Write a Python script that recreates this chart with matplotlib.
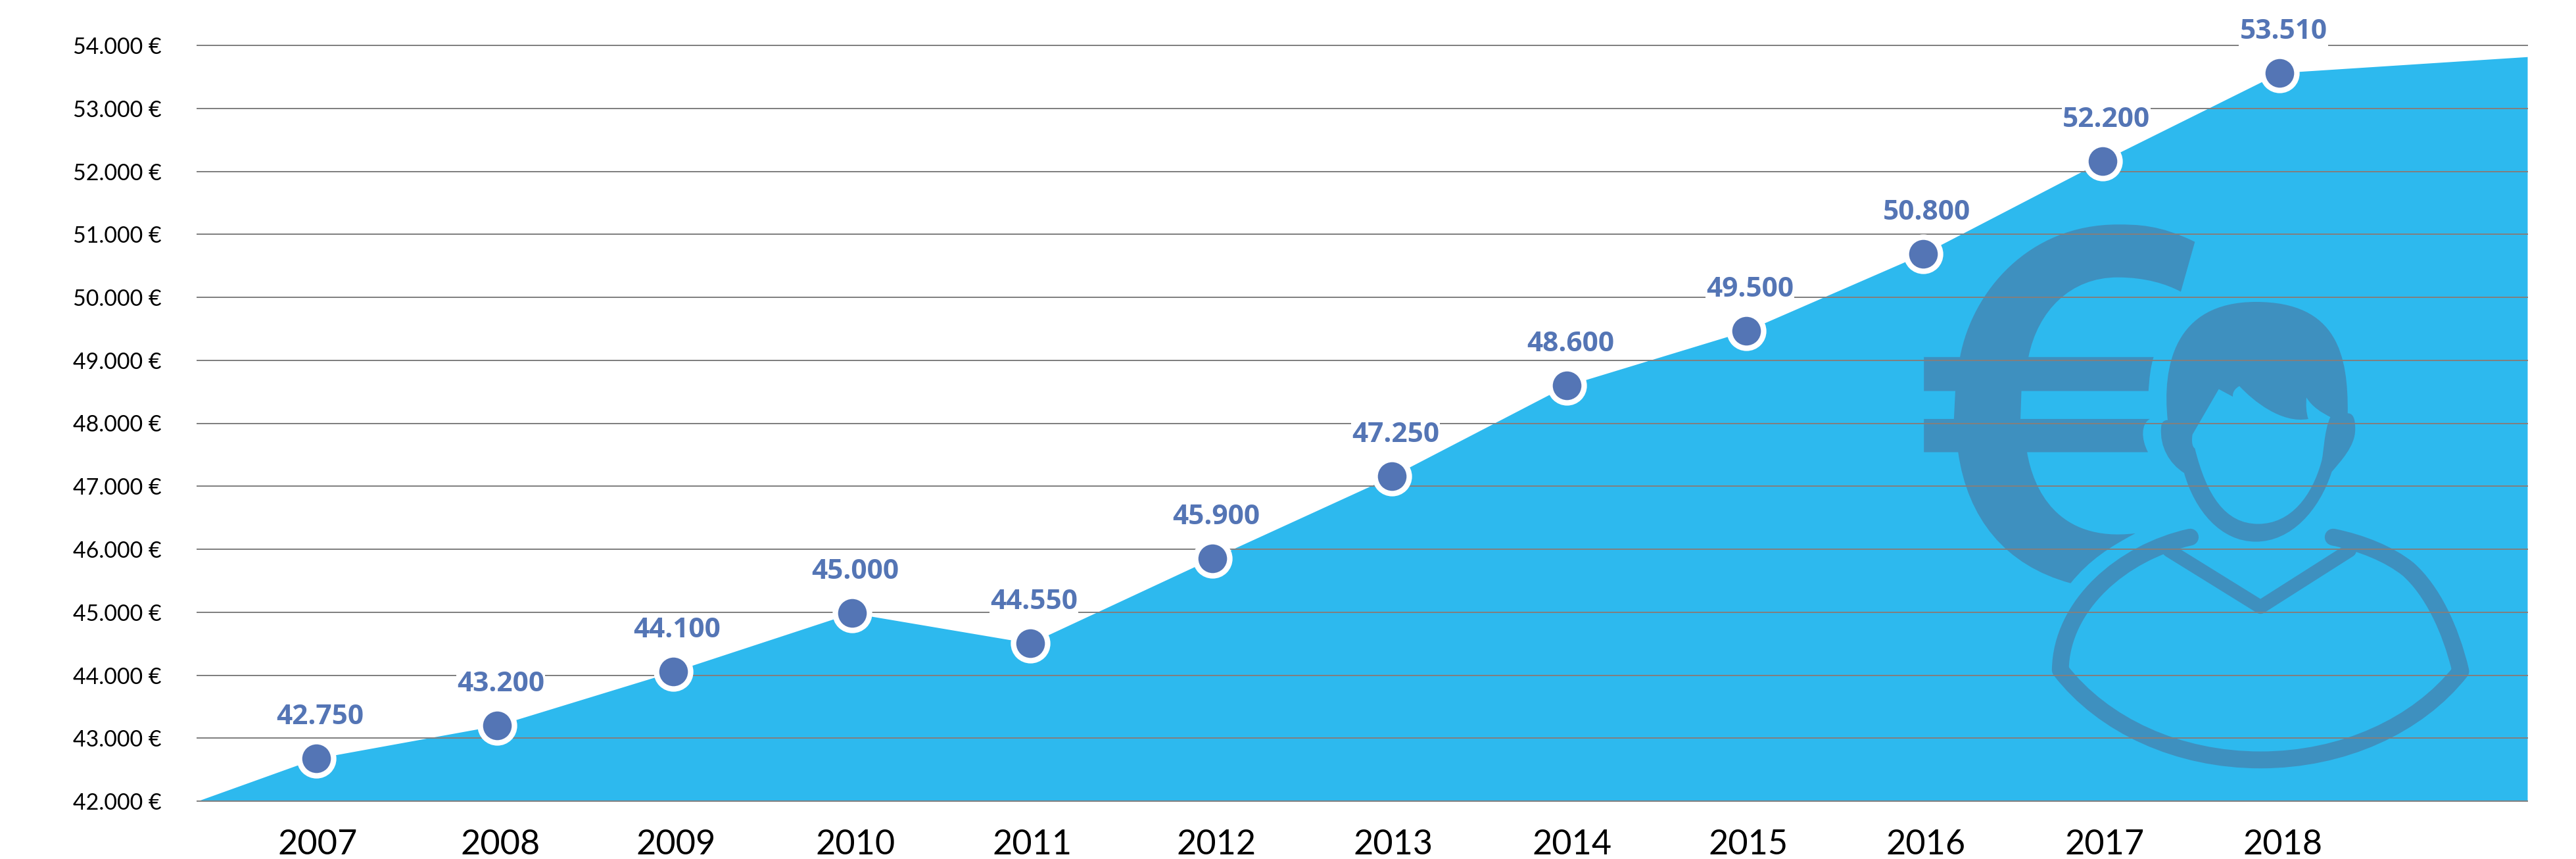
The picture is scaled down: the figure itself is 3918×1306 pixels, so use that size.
"""
Salario medio por ano: area azul com marcadores e icone decorativo
"""

import matplotlib
matplotlib.use('Agg')
import matplotlib.pyplot as plt
from matplotlib.patches import PathPatch
from matplotlib.path import Path
from matplotlib.transforms import Affine2D

plt.rcParams['font.family'] = ['Lato', 'DejaVu Sans']

# Dados
anos = ['2007', '2008', '2009', '2010', '2011', '2012',
        '2013', '2014', '2015', '2016', '2017', '2018']
rotulos = ['42.750', '43.200', '44.100', '45.000', '44.550', '45.900',
           '47.250', '48.600', '49.500', '50.800', '52.200', '53.510']
# os pontos do original nao estao perfeitamente espacados nem batem 100% com os rotulos
pontos_x = [2007.0, 2008.013, 2009.0, 2010.0, 2011.0, 2012.02,
            2013.026, 2014.006, 2015.011, 2016.002, 2017.007, 2018.0]
pontos_y = [42679, 43201, 44057, 44987, 44507, 45854,
            47159, 48600, 49467, 50689, 52167, 53565]
ticks_x = [2007.007, 2008.031, 2009.015, 2010.02, 2011.011, 2012.042,
           2013.033, 2014.035, 2015.022, 2016.017, 2017.018, 2018.017]
area_x = [2006.333, 2019.387]
area_y = [42000, 53820]
ticks_y = [42000, 43000, 44000, 45000, 46000, 47000, 48000,
           49000, 50000, 51000, 52000, 53000, 54000]
rotulos_y = ['42.000 €', '43.000 €', '44.000 €', '45.000 €', '46.000 €', '47.000 €', '48.000 €',
             '49.000 €', '50.000 €', '51.000 €', '52.000 €', '53.000 €', '54.000 €']

COR_AREA = '#2db9ee'
COR_ICONE = '#3e90bf'
COR_PONTO = '#5475b5'
COR_GRADE = '#808080'

W, H = 3918, 1306

fig = plt.figure(figsize=(W / 100, H / 100), dpi=100, facecolor='white')
ax = fig.add_axes([300 / W, 1 - 1218 / H, (3844 - 300) / W, (1218 - 69) / H])
ax.set_xlim(area_x[0], area_x[1])
ax.set_ylim(ticks_y[0], ticks_y[-1])
for lado in ax.spines.values():
    lado.set_visible(False)

# Area
xs = [area_x[0]] + pontos_x + [area_x[1]]
ys = [area_y[0]] + pontos_y + [area_y[1]]
ax.fill_between(xs, ticks_y[0], ys, color=COR_AREA, linewidth=0, zorder=1, clip_on=False)

# Grade e eixos
ax.set_yticks(ticks_y)
ax.set_yticklabels(rotulos_y, fontsize=24.5, color='black')
ax.set_xticks(ticks_x)
ax.set_xticklabels(anos, fontsize=37.5, color='black')
ax.tick_params(axis='both', length=0)
ax.tick_params(axis='y', pad=39)
ax.tick_params(axis='x', pad=31)
for y in ticks_y:
    ax.axhline(y, color=COR_GRADE, linewidth=1.44, zorder=3, clip_on=False)

# Icone (coordenadas do recorte, convertidas para a figura)
icone_tf = (Affine2D().scale(1 / 1.4025, 1 / 1.742).translate(2800, 300)
            .scale(1 / W, -1 / H).translate(0, 1) + fig.transFigure)


def _caminho(inicio, segmentos, fechar=True):
    """Monta um Path a partir de pontos soltos (reta) e trios (curva cubica)"""
    verts = [inicio]
    codes = [Path.MOVETO]
    for seg in segmentos:
        if len(seg) == 3:
            verts.extend(seg)
            codes.extend([Path.CURVE4] * 3)
        else:
            verts.append(seg[0])
            codes.append(Path.LINETO)
    if fechar:
        verts.append(inicio)
        codes.append(Path.CLOSEPOLY)
    return Path(verts, codes)


euro = _caminho((755, 118), [
    ((680, 72), (630, 72), (590, 72)),
    ((400, 72), (280, 250), (254, 423)),
    [(177, 423)], [(177, 513)], [(244, 513)], [(241, 587)], [(177, 587)],
    [(177, 675)], [(250, 675)],
    ((270, 850), (350, 975), (490, 1022)),
    ((530, 960), (575, 925), (628, 890)),
    ((460, 915), (410, 770), (397, 675)),
    [(655, 675)],
    ((640, 640), (640, 600), (659, 587)),
    [(383, 587)], [(385, 513)], [(656, 513)],
    ((658, 480), (660, 450), (667, 423)),
    [(400, 423)],
    ((420, 300), (490, 212), (590, 212)),
    ((650, 212), (695, 230), (725, 250)),
])
cabeca = _caminho((697, 590), [
    ((685, 450), (710, 277), (885, 277)),
    ((1060, 277), (1082, 420), (1081, 572)),
    ((1097, 572), (1097, 600), (1097, 615)),
    ((1097, 660), (1065, 700), (1047, 727)),
    ((1020, 830), (960, 912), (885, 912)),
    ((810, 912), (755, 830), (732, 730)),
    ((700, 705), (680, 660), (683, 610)),
    ((683, 595), (690, 590), (697, 590)),
])
rosto = _caminho((806, 508), [
    [(836, 528)],
    ((835, 515), (842, 505), (850, 500)),
    ((880, 540), (940, 600), (997, 587)),
    ((992, 570), (992, 550), (993, 530)),
    ((1005, 555), (1025, 570), (1044, 582)),
    ((1030, 620), (1030, 680), (1025, 700)),
    ((1005, 790), (960, 865), (890, 865)),
    ((820, 865), (780, 790), (755, 665)),
    ((748, 660), (748, 640), (750, 628)),
])
ombros = _caminho((745, 900), [
    ((600, 940), (470, 1080), (468, 1252)),
    ((560, 1400), (720, 1490), (895, 1490)),
    ((1070, 1490), (1230, 1400), (1322, 1255)),
    ((1300, 1140), (1260, 1040), (1210, 985)),
    ((1170, 945), (1110, 915), (1050, 900)),
], fechar=False)
gola = _caminho((700, 935), [[(895, 1085)], [(1085, 935)]], fechar=False)

for forma, cor in [(euro, COR_ICONE), (cabeca, COR_ICONE), (rosto, COR_AREA)]:
    ax.add_patch(PathPatch(forma, facecolor=cor, edgecolor='none', transform=icone_tf, zorder=2, clip_on=False))
for traco, largura in [(ombros, 18.5), (gola, 15)]:
    ax.add_patch(PathPatch(traco, facecolor='none', edgecolor=COR_ICONE, linewidth=largura,
                           capstyle='round', joinstyle='round', transform=icone_tf, zorder=2, clip_on=False))

# Marcadores e rotulos
ax.plot(pontos_x, pontos_y, linestyle='none', marker='o', markersize=37.4,
        markerfacecolor=COR_PONTO, markeredgecolor='white', markeredgewidth=6, zorder=4, clip_on=False)
for x, y, rotulo in zip(pontos_x, pontos_y, rotulos):
    ax.annotate(rotulo, (x, y), xytext=(4, 45), textcoords='offset points',
                ha='center', va='center', fontsize=30.5, fontweight='bold', color=COR_PONTO,
                family=['Open Sans', 'DejaVu Sans'],
                bbox=dict(facecolor='white', edgecolor='none', pad=1), zorder=5, annotation_clip=False)

fig.savefig('out.png', dpi=100)
plt.close(fig)
